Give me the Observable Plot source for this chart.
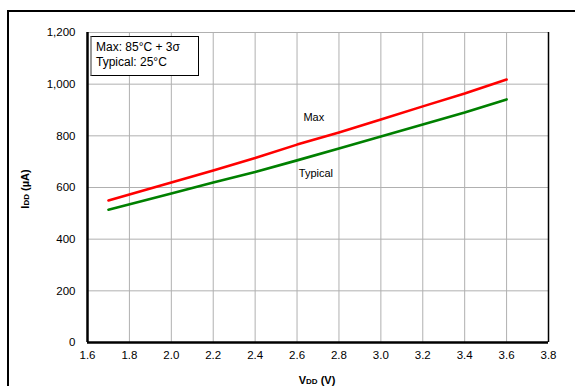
<!DOCTYPE html>
<html><head><meta charset="utf-8">
<script src="https://cdn.jsdelivr.net/npm/d3@7"></script>
<script src="https://cdn.jsdelivr.net/npm/@observablehq/plot@0.6"></script>
<style>
html,body{margin:0;padding:0;background:#fff;}
#wrap{position:relative;width:575px;height:386px;overflow:hidden;font-family:"Liberation Sans",Arial,sans-serif;}
#outer{position:absolute;left:7px;top:10px;width:700px;height:500px;border-left:2px solid #000;border-top:2px solid #000;}
#legend{position:absolute;left:90px;top:36px;width:109px;height:40px;box-sizing:border-box;border:1px solid #000;border-left:2px solid #999;background:#fff;font-size:12px;line-height:15px;padding:3px 0 0 4px;color:#000;}
svg{position:absolute;left:0;top:0;}
</style></head>
<body>
<div id="wrap"><div id="outer"></div></div>
<script>
const vdd = [1.7, 2.0, 2.2, 2.4, 2.6, 2.8, 3.0, 3.2, 3.4, 3.6];
const maxIdd = [550, 619, 666, 714, 766, 813, 863, 914, 964, 1018];
const typIdd = [514, 577, 619, 660, 705, 751, 797, 844, 890, 941];
const xTicks = [1.6, 1.8, 2.0, 2.2, 2.4, 2.6, 2.8, 3.0, 3.2, 3.4, 3.6, 3.8];
const yTicks = [0, 200, 400, 600, 800, 1000, 1200];
const seriesNames = ["Max", "Typical"];
const seriesColors = ["#ff0000", "#008000"];
const labelX = [2.68, 2.69];
const labelY = [872, 653];
const legendLines = ["Max: 85°C + 3σ", "Typical: 25°C"];

const rows = [];
vdd.forEach((v, i) => { rows.push({v, i: maxIdd[i], s: "Max"}); rows.push({v, i: typIdd[i], s: "Typical"}); });
const labels = seriesNames.map((s, k) => ({s, x: labelX[k], y: labelY[k]}));
const fx = d3.format(".1f");
const fy = d3.format(",");

const chart = Plot.plot({
  width: 575, height: 386,
  marginLeft: 87, marginRight: 27, marginTop: 32, marginBottom: 44,
  style: {fontFamily: '"Liberation Sans", Arial, sans-serif', fontSize: "11.5px", color: "#000", background: "transparent"},
  x: {domain: [1.6, 3.8], label: null},
  y: {domain: [0, 1200], label: null},
  color: {domain: seriesNames, range: seriesColors},
  marks: [
    Plot.gridX(xTicks, {stroke: "#b0b0b0", strokeOpacity: 1, strokeWidth: 1}),
    Plot.gridY(yTicks, {stroke: "#b0b0b0", strokeOpacity: 1, strokeWidth: 1}),
    Plot.axisX(xTicks, {tickSize: 0, tickPadding: 8, tickFormat: fx, fontSize: 11.5, label: null}),
    Plot.axisY(yTicks, {tickSize: 0, tickPadding: 12, tickFormat: fy, fontSize: 11.5, label: null}),
    Plot.ruleX([3.8], {stroke: "#000", strokeWidth: 1.5}),
    Plot.ruleX([1.6], {stroke: "#000", strokeWidth: 2.5}),
    Plot.ruleY([0], {stroke: "#000", strokeWidth: 2.5}),
    Plot.line(rows, {x: "v", y: "i", z: "s", stroke: "s", strokeWidth: 2.6}),
    Plot.text(labels, {x: "x", y: "y", text: "s", fontSize: 11, fill: "#000"})
  ]
});
document.getElementById("wrap").appendChild(chart);

const svg = d3.select(chart);
const xl = svg.append("text").attr("x", 317).attr("y", 384).attr("text-anchor", "middle")
  .attr("font-weight", "bold").attr("font-size", 11).attr("fill", "#000");
xl.append("tspan").text("V");
xl.append("tspan").attr("font-size", 8).text("DD");
xl.append("tspan").text(" (V)");
const yl = svg.append("text").attr("transform", "translate(29,189) rotate(-90)").attr("text-anchor", "middle")
  .attr("font-weight", "bold").attr("font-size", 11).attr("fill", "#000");
yl.append("tspan").text("I");
yl.append("tspan").attr("font-size", 8).text("DD");
yl.append("tspan").text(" (µA)");

const lg = document.createElement("div");
lg.id = "legend";
lg.innerHTML = legendLines.map(t => `<div>${t}</div>`).join("");
document.getElementById("wrap").appendChild(lg);
</script>
</body></html>
